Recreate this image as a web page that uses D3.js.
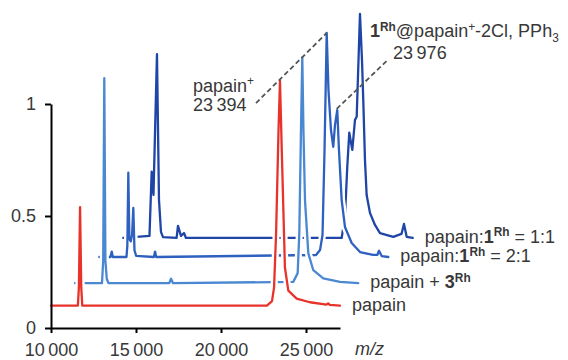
<!DOCTYPE html>
<html>
<head>
<meta charset="utf-8">
<script src="https://cdn.jsdelivr.net/npm/d3@7"></script>
<style>
  body { margin: 0; background: #fff; }
  svg { display: block; font-family: "Liberation Sans", Arial, sans-serif; }
</style>
</head>
<body>
<div id="app"></div>
<script>
// spectra: [m/z, intensity above own baseline], unshifted
const papain = [[10000,0],[11580,0],[11640,0.08],[11710,0.44],[11780,0.08],[11840,0],
  [22700,0],[23000,0.02],[23120,0.08],[23240,0.32],[23382,0.78],[23470,1.004],[23590,0.65],
  [23760,0.17],[23960,0.067],[24450,0.031],[25230,0.015],[26200,0.004],[26300,0.01],[26400,0.003],[27000,0]]
const papain3Rh = [[10030,0],[11620,0],[11690,0.1],[11755,0.915],[11820,0.1],[11900,0.02],[12000,0],
  [15580,0],[15680,0.02],[15800,0],
  [22870,0.006],[23130,0.045],[23226,0.223],[23324,0.68],[23402,1.008],[23470,0.68],[23561,0.37],
  [23755,0.134],[24049,0.058],[24637,0.022],[25617,0.006],[26694,0]]
const papain1Rh21 = [[10080,0],[10740,0],[10812,0.024],[10880,0],
  [11680,0],[11730,0.05],[11788,0.376],[11850,0.08],[11935,0.07],[12010,0.1],[12082,0.219],[12150,0.03],[12250,0.005],
  [13290,0],[13362,0.024],[13430,0],
  [22830,0.009],[23065,0.031],[23212,0.098],[23330,0.478],[23458,1.0],[23562,0.745],[23709,0.567],
  [23844,0.492],[23944,0.589],[24079,0.656],[24179,0.478],[24338,0.254],[24532,0.134],[24927,0.0625],
  [25417,0.022],[26181,0.009],[26440,0.01],[26534,0.028],[26693,0.004],[27081,0]]
const papain1Rh11 = [[10110,0],[11653,0.009],[11782,0.296],[11888,0.192],[12094,0.821],[12212,0.17],
  [12329,0.027],[12447,0.004],[13250,0],[13330,0.054],[13506,0.009],[13683,0.022],[13800,0],
  [22958,0],[23153,0.095],[23288,0.318],[23406,0.47],[23583,0.393],[23742,0.527],[23842,0.541],
  [24035,1.0],[24153,0.795],[24229,0.616],[24329,0.348],[24427,0.192],[24623,0.112],[24917,0.058],
  [25211,0.022],[25993,0.005],[26476,0.018],[26623,0.0625],[26782,0.005],[27135,0]]

// back to front
const spectra = [papain1Rh11, papain1Rh21, papain3Rh, papain]
const xShift = [4140, 2760, 1380, 0]
const yBase = [0.402, 0.317, 0.2, 0.1]
const colors = ["#1f45a6", "#2d60bf", "#4a88d2", "#e8332b"]
const labels = [
  [["papain:"], ["1", "b"], ["Rh", "bsup"], [" = 1:1"]],
  [["papain:"], ["1", "b"], ["Rh", "bsup"], [" = 2:1"]],
  [["papain + "], ["3", "b"], ["Rh", "bsup"]],
  [["papain"]]
]

const xTicks = [10000, 15000, 20000, 25000]
const yTicks = [0, 0.5, 1]

const annoLines = [
  [[22058, 1.004], [26217, 1.317]],
  [[26805, 0.978], [29746, 1.192]]
]
const annoText = [
  {at: [18350, 1.054], segs: [["papain"], ["+", "sup"]]},
  {at: [18350, 0.969], segs: [["23\u2009394"]]},
  {at: [28764, 1.299], segs: [["1", "b"], ["Rh", "bsup"], ["@papain"], ["+", "sup"], ["-2Cl, PPh"], ["3", "sub"]]},
  {at: [30117, 1.203], segs: [["23\u2009976"]]}
]

const W = 568, H = 360
const ink = "#383838"
const fx = d3.scaleLinear().domain([10000, 27000]).range([51, 340])
const fy = d3.scaleLinear().domain([0, 1]).range([328, 104])

const svg = d3.select("#app").append("svg")
  .attr("width", W)
  .attr("height", H)

svg.append("rect").attr("width", W).attr("height", H).attr("fill", "#fff")

function rich(sel, segs, size) {
  let shift = 0
  segs.forEach(([t, s]) => {
    const sp = sel.append("tspan").text(t)
    let want = 0
    if (s === "sup" || s === "bsup") want = -0.36 * size
    if (s === "sub") want = 0.25 * size
    if (want !== shift) sp.attr("dy", want - shift)
    shift = want
    if (s === "b" || s === "bsup") sp.attr("font-weight", "bold")
    if (s && s !== "b") sp.attr("font-size", size * 0.66)
  })
}

const traces = svg.append("g")
  .attr("fill", "none")
  .attr("stroke-linejoin", "round")
  .attr("stroke-linecap", "round")

spectra.forEach((data, i) => {
  const line = d3.line()
    .x(d => fx(d[0] + xShift[i]))
    .y(d => fy(d[1] + yBase[i]))
  traces.append("path")
    .attr("d", line(data))
    .attr("stroke", "#fff")
    .attr("stroke-width", 7)
  traces.append("path")
    .attr("d", line(data))
    .attr("stroke", colors[i])
    .attr("stroke-width", 2.3)

  const last = data[data.length - 1]
  const t = svg.append("text")
    .attr("x", fx(last[0] + xShift[i]) + 12)
    .attr("y", fy(yBase[i]) + 5)
    .attr("font-size", 18)
    .attr("fill", ink)
  rich(t, labels[i], 18)
})

const gx = svg.append("g")
  .attr("transform", `translate(0,${fy(0)})`)
  .call(d3.axisBottom(fx)
    .tickValues(xTicks)
    .tickSize(5)
    .tickSizeOuter(0)
    .tickPadding(10)
    .tickFormat(d => d3.format(",")(d).replace(",", "\u2009")))

const gy = svg.append("g")
  .attr("transform", `translate(${fx(10000)},0)`)
  .call(d3.axisLeft(fy)
    .tickValues(yTicks)
    .tickSize(6)
    .tickSizeOuter(0)
    .tickPadding(9)
    .tickFormat(d => String(d)))

;[gx, gy].forEach(g => {
  g.selectAll("path, line").attr("stroke", "#000").attr("stroke-width", 2)
  g.selectAll("text").attr("font-size", 18).attr("fill", ink)
    .attr("font-family", "Liberation Sans, Arial, sans-serif")
})

svg.append("text")
  .attr("x", 355)
  .attr("y", 355)
  .attr("font-size", 18)
  .attr("font-style", "italic")
  .attr("fill", ink)
  .text("m/z")

annoLines.forEach(l => {
  svg.append("line")
    .attr("x1", fx(l[0][0])).attr("y1", fy(l[0][1]))
    .attr("x2", fx(l[1][0])).attr("y2", fy(l[1][1]))
    .attr("stroke", "#555")
    .attr("stroke-width", 1.8)
    .attr("stroke-dasharray", "5,3")
})

annoText.forEach(a => {
  const t = svg.append("text")
    .attr("x", fx(a.at[0]))
    .attr("y", fy(a.at[1]))
    .attr("font-size", 18)
    .attr("fill", ink)
  rich(t, a.segs, 18)
})
</script>
</body>
</html>
